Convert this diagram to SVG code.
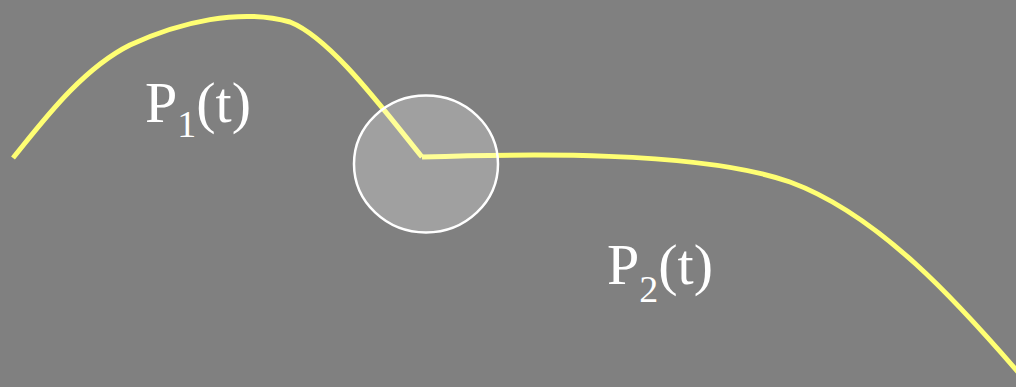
<svg xmlns="http://www.w3.org/2000/svg" width="1016" height="387" viewBox="0 0 1016 387">
<style>
.curve{fill:none;stroke:#ffff73;stroke-width:5;stroke-linejoin:miter}
.lbl{font-family:"Liberation Serif","Times New Roman",serif;font-size:58px;fill:#ffffff}
</style>
<rect width="1016" height="387" fill="#808080"/>
<g id="connectors">
<path id="p1" class="curve" d="M13,158 C40,125 80,70 130,45 C180,22 240,8 290,22 C330,38 380,105 422,157"/>
<path id="p2" class="curve" d="M422,157 C520,154 700,150 790,182 C880,215 960,305 1018,372"/>
</g>
<g id="joint">
<ellipse cx="426" cy="164" rx="72" ry="68.5" fill="#ffffff" fill-opacity="0.25" stroke="#ffffff" stroke-width="2.5"/>
</g>
<g id="label1">
<text class="lbl" x="145" y="122">P<tspan font-size="38" dy="15">1</tspan><tspan dy="-15">(t)</tspan></text>
</g>
<g id="label2">
<text class="lbl" x="607" y="284">P<tspan font-size="38" dy="18">2</tspan><tspan dy="-18">(t)</tspan></text>
</g>
</svg>
